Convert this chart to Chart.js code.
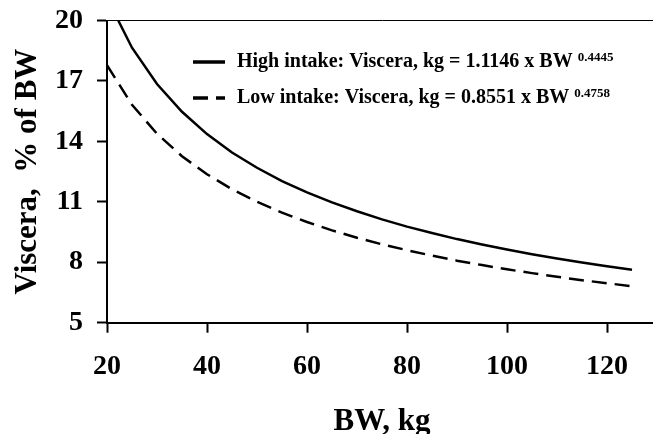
<!DOCTYPE html>
<html>
<head>
<meta charset="utf-8">
<script src="https://cdn.jsdelivr.net/npm/chart.js@4.4.1/dist/chart.umd.min.js"></script>
<style>
    html, body { margin: 0; padding: 0; background: #fff; overflow: hidden; }
    #wrap { width: 660px; height: 434px; }
</style>
</head>
<body>
<div id="wrap"><canvas id="viscera-chart" width="660" height="434"></canvas></div>
<script>
// Values
const bodyWeight = [20, 25, 30, 35, 40, 45, 50, 55, 60, 65, 70, 75, 80, 85, 90, 95, 100, 105, 110, 115, 120, 125];
const highIntake = [21.11, 18.65, 16.85, 15.47, 14.36, 13.45, 12.69, 12.03, 11.47, 10.97, 10.53, 10.13, 9.77, 9.45, 9.15, 8.88, 8.63, 8.40, 8.19, 7.99, 7.80, 7.63];
const lowIntake = [17.78, 15.82, 14.38, 13.26, 12.37, 11.62, 11.00, 10.46, 10.00, 9.58, 9.22, 8.89, 8.60, 8.33, 8.08, 7.86, 7.65, 7.46, 7.28, 7.11, 6.96, 6.81];
const xTicks = [20, 40, 60, 80, 100, 120];
const yTicks = [5, 8, 11, 14, 17, 20];
const seriesLabels = ["High intake: Viscera, kg = 1.1146 x BW", "Low intake: Viscera, kg = 0.8551 x BW"];
const seriesExponents = ["0.4445", "0.4758"];

const serif = "'Liberation Serif', 'Times New Roman', serif";
const toPoints = (ys) => bodyWeight.map((x, i) => ({ x: x, y: ys[i] }));

// Legend with superscript exponents, drawn in the plot
const equationLegend = {
    id: "equationLegend",
    afterDraw(chart) {
        const { ctx, chartArea } = chart;
        chart.data.datasets.forEach((ds, i) => {
            const y = chartArea.top + 41.5 + i * 36;
            ctx.save();
            ctx.strokeStyle = "#000";
            ctx.lineWidth = 3.5;
            ctx.setLineDash(ds.borderDash || []);
            ctx.beginPath();
            ctx.moveTo(193, y);
            ctx.lineTo(225, y);
            ctx.stroke();
            ctx.setLineDash([]);
            ctx.fillStyle = "#000";
            ctx.textBaseline = "alphabetic";
            ctx.font = "bold 20px " + serif;
            ctx.fillText(ds.label, 237, y + 5.3);
            const w = ctx.measureText(ds.label + " ").width;
            ctx.font = "bold 13px " + serif;
            ctx.fillText(seriesExponents[i], 237 + w, y - 1);
            ctx.restore();
        });
    },
};

new Chart(document.getElementById("viscera-chart"), {
    type: "line",
    data: {
        datasets: [
            {
                label: seriesLabels[0],
                data: toPoints(highIntake),
                borderColor: "#000",
                borderWidth: 2.5,
                pointRadius: 0,
                tension: 0,
                clip: 0,
            },
            {
                label: seriesLabels[1],
                data: toPoints(lowIntake),
                borderColor: "#000",
                borderWidth: 2.5,
                borderDash: [15, 8],
                pointRadius: 0,
                tension: 0,
                clip: 0,
            },
        ],
    },
    options: {
        responsive: false,
        animation: false,
        devicePixelRatio: 1,
        layout: { padding: { top: 20.5, left: 0, right: 3, bottom: 0 } },
        scales: {
            x: {
                type: "linear",
                min: 20,
                max: 130,
                afterBuildTicks: (scale) => {
                    scale.ticks = xTicks.map((v) => ({ value: v }));
                },
                afterFit: (scale) => {
                    scale.height = 111.3;
                },
                border: { display: true, color: "#000", width: 2 },
                grid: {
                    drawOnChartArea: false,
                    tickLength: 10,
                    tickColor: "#000",
                    tickWidth: 2,
                },
                ticks: {
                    color: "#000",
                    padding: 17.5,
                    maxRotation: 0,
                    font: { family: serif, size: 28, weight: "bold" },
                },
                title: {
                    display: true,
                    text: "BW, kg",
                    color: "#000",
                    padding: -3,
                    font: { family: serif, size: 31, weight: "bold", lineHeight: 1.0 },
                },
            },
            y: {
                min: 5,
                max: 20,
                afterBuildTicks: (scale) => {
                    scale.ticks = yTicks.map((v) => ({ value: v }));
                },
                afterFit: (scale) => {
                    scale.width = 107;
                    scale.paddingTop = 0;
                    scale.paddingBottom = 0;
                },
                border: { display: true, color: "#000", width: 2 },
                grid: {
                    color: (ctx) => (ctx.tick && ctx.tick.value === 20 ? "#000" : "rgba(0,0,0,0)"),
                    lineWidth: 1,
                    tickLength: 10,
                    tickColor: "#000",
                    tickWidth: 2,
                },
                ticks: {
                    color: "#000",
                    padding: 14,
                    font: { family: serif, size: 28, weight: "bold" },
                },
                title: {
                    display: true,
                    text: "Viscera,  % of BW",
                    color: "#000",
                    padding: 9,
                    font: { family: serif, size: 31, weight: "bold" },
                },
            },
        },
        plugins: {
            legend: { display: false },
            tooltip: { enabled: false },
        },
    },
    plugins: [equationLegend],
});
</script>
</body>
</html>
